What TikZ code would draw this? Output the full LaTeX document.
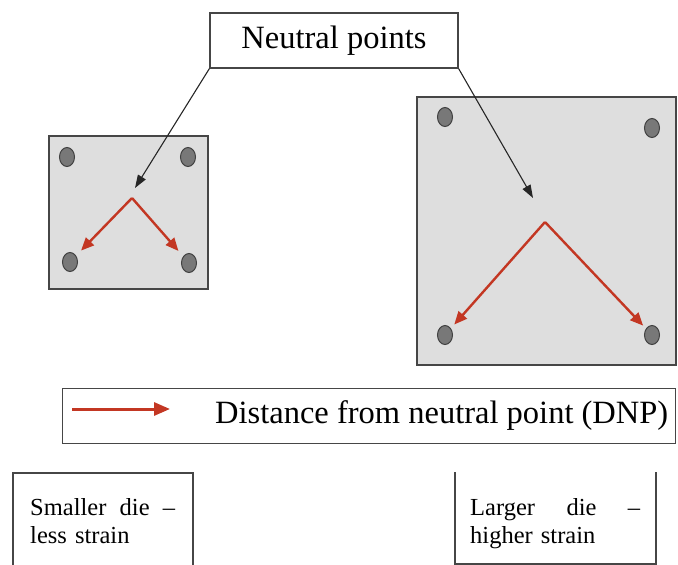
\documentclass[tikz,border=0pt]{standalone}
\usepackage{fontspec}
\setmainfont{Liberation Serif}
\usetikzlibrary{arrows.meta,shapes.geometric}
\definecolor{diegray}{RGB}{222,222,222}
\definecolor{edgegray}{RGB}{70,70,70}
\definecolor{dotfill}{RGB}{120,120,120}
\definecolor{dotedge}{RGB}{65,65,65}
\definecolor{dnpred}{RGB}{195,55,35}
\tikzset{
  diebox/.style={draw=edgegray, fill=diegray, line width=1.6pt, rectangle, inner sep=0pt, anchor=north west},
  labelbox/.style={draw=edgegray, line width=1.3pt, rectangle, inner sep=0pt, fill=white},
  bump/.style={ellipse, draw=dotedge, fill=dotfill, line width=1pt, minimum width=15pt, minimum height=19pt, inner sep=0pt},
  pointer/.style={draw=black!85, line width=1.1pt, -{Triangle[length=13pt,width=9pt]}},
  dnparrow/.style={draw=dnpred, line width=2.4pt, -{Triangle[length=13pt,width=11pt]}},
  bigfont/.style={font=\fontsize{32.5}{36}\selectfont},
  smallfont/.style={font=\fontsize{24.5}{28}\selectfont},
  openbox/.style={draw=edgegray, line width=1.3pt}
}
\begin{document}
\begin{tikzpicture}[x=1pt,y=-1pt]
\useasboundingbox (0,0) rectangle (678,565);
% dies
\node[diebox, minimum width=159pt, minimum height=153pt] (sdie) at (48,135) {};
\node[diebox, minimum width=259pt, minimum height=268pt] (ldie) at (416,96) {};
% bumps small die
\node[bump] (s1) at (67,157) {};
\node[bump] (s2) at (188,157) {};
\node[bump] (s3) at (70,262) {};
\node[bump] (s4) at (189,263) {};
% bumps large die
\node[bump] (l1) at (445,117) {};
\node[bump] (l2) at (652,128) {};
\node[bump] (l3) at (445,335) {};
\node[bump] (l4) at (652,335) {};
% neutral points
\coordinate (snp) at (132,198);
\coordinate (lnp) at (545,222);
\coordinate (sptr) at (135,188);
\coordinate (lptr) at (533,198);
% title box
\node[labelbox, minimum width=248pt, minimum height=55pt, bigfont] (np) at (334,40.5) {Neutral points};
\draw[pointer] (np.south west) -- (sptr);
\draw[pointer] (np.south east) -- (lptr);
% red DNP arrows
\draw[dnparrow, shorten >=7pt] (snp) -- (s3);
\draw[dnparrow, shorten >=7pt] (snp) -- (s4);
\draw[dnparrow, shorten >=5pt] (lnp) -- (l3);
\draw[dnparrow, shorten >=4pt] (lnp) -- (l4);
% legend
\node[labelbox, anchor=north west, minimum width=613pt, minimum height=55pt] (leg) at (62,388) {};
\coordinate (la) at (72,409);
\coordinate (lb) at (170,409);
\draw[draw=dnpred, line width=3pt, -{Triangle[length=16pt,width=13pt]}] (la) -- (lb);
\node[bigfont, anchor=base west, inner sep=0pt] (legtxt) at (215,423) {Distance from neutral point (DNP)};
% lower open boxes
\coordinate (a1) at (13,566);
\coordinate (a2) at (13,473);
\coordinate (a3) at (193,473);
\coordinate (a4) at (193,566);
\draw[openbox] (a1) -- (a2) -- (a3) -- (a4);
\node[smallfont, anchor=base west, text width=145pt, align=left, inner sep=0pt] (stxt) at (30,515) {Smaller\hfill die\hfill –\\less strain};
\coordinate (b1) at (455,472);
\coordinate (b2) at (455,564);
\coordinate (b3) at (656,564);
\coordinate (b4) at (656,472);
\draw[openbox] (b1) -- (b2) -- (b3) -- (b4);
\node[smallfont, anchor=base west, text width=170pt, align=left, inner sep=0pt] (ltxt) at (470,515) {Larger\hfill die\hfill –\\higher strain};
\end{tikzpicture}
\end{document}
